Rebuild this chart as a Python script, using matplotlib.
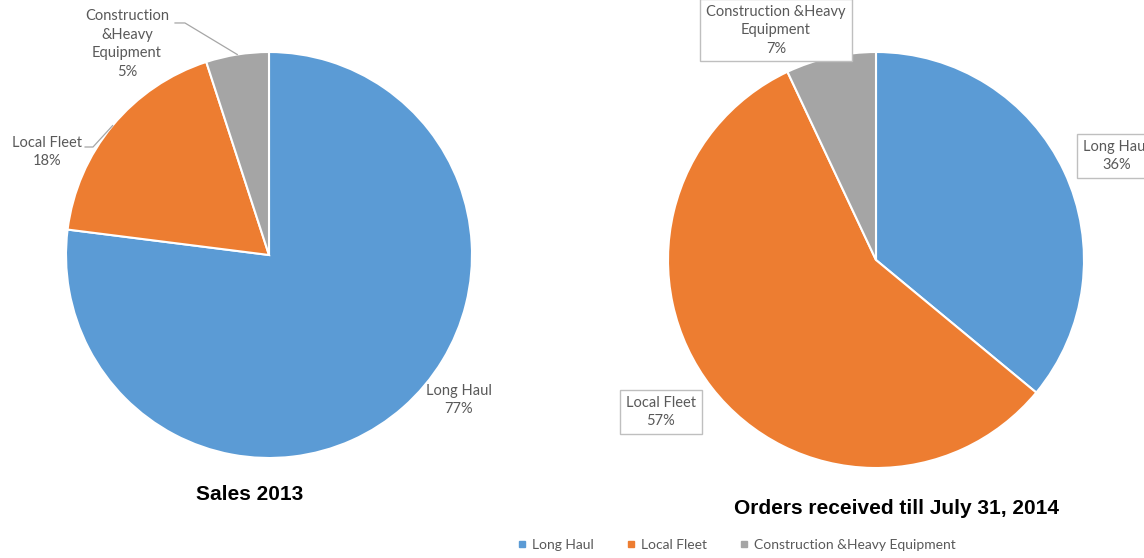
import numpy as np
import matplotlib.pyplot as plt
from matplotlib.lines import Line2D

plt.rcParams['font.family'] = ['Lato', 'DejaVu Sans']

segments = ['Long Haul', 'Local Fleet', 'Construction &Heavy Equipment']
sales_2013 = [77, 18, 5]
orders_2014 = [36, 57, 7]
colors = ['#5B9BD5', '#ED7D31', '#A5A5A5']

TEXT = '#595959'
W, H = 1144, 558

fig = plt.figure(figsize=(W / 100, H / 100), dpi=100)


def pie_axes(cx, cy, r):
    # axes square in pixels around the pie centre, data range -1..1
    return fig.add_axes([(cx - r) / W, (H - cy - r) / H, 2 * r / W, 2 * r / H])


def draw_pie(ax, values):
    wedges, _ = ax.pie(values, colors=colors, startangle=90, counterclock=False,
                       radius=1, wedgeprops=dict(edgecolor='white', linewidth=1.5))
    ax.set_xlim(-1, 1)
    ax.set_ylim(-1, 1)
    ax.set_axis_off()
    return wedges


def mid(w):
    a = np.deg2rad((w.theta1 + w.theta2) / 2)
    return np.cos(a), np.sin(a)


lab = lambda name, v: f'{name}\n{v}%'
fs = 10.5
ls = 1.4

# --- Sales 2013 ---
ax1 = pie_axes(269, 255, 203)
w1 = draw_pie(ax1, sales_2013)

ax1.text(0.936, -0.714, lab('Long Haul', sales_2013[0]), ha='center', va='center',
         fontsize=fs, color=TEXT, linespacing=ls)

# Local Fleet callout
mx, my = mid(w1[1])
ax1.plot([-0.906, -0.867, mx], [0.532, 0.532, my], color='#A6A6A6', lw=0.9, clip_on=False)
ax1.text(-1.094, 0.507, lab('Local Fleet', sales_2013[1]), ha='center', va='center',
         fontsize=fs, color=TEXT, linespacing=ls)

# Construction callout
mx, my = mid(w1[2])
ax1.plot([-0.463, -0.414, mx], [1.143, 1.143, my], color='#A6A6A6', lw=0.9, clip_on=False)
ax1.text(-0.700, 1.039, f'Construction\n&Heavy\nEquipment\n{sales_2013[2]}%', ha='center',
         va='center', fontsize=fs, color=TEXT, linespacing=ls)

# --- Orders 2014 ---
ax2 = pie_axes(876, 260, 208)
w2 = draw_pie(ax2, orders_2014)
box = dict(boxstyle='square,pad=0.4', fc='white', ec='#BFBFBF', lw=1)
ax2.text(1.155, 0.50, lab('Long Haul', orders_2014[0]), ha='center', va='center',
         fontsize=fs, color=TEXT, linespacing=ls, bbox=box)
ax2.text(-1.034, -0.731, lab('Local Fleet', orders_2014[1]), ha='center', va='center',
         fontsize=fs, color=TEXT, linespacing=ls, bbox=box)
ax2.text(-0.481, 1.105, f'Construction &Heavy\nEquipment\n{orders_2014[2]}%', ha='center',
         va='center', fontsize=fs, color=TEXT, linespacing=ls, bbox=box)

# titles
fig.text(250 / W, 1 - 495 / H, 'Sales 2013', ha='center', va='center', fontsize=15,
         fontweight='bold', family='Liberation Sans')
fig.text(897 / W, 1 - 508 / H, 'Orders received till July 31, 2014', ha='center',
         va='center', fontsize=15, fontweight='bold', family='Liberation Sans')

handles = [Line2D([], [], marker='s', ls='none', color=c, markersize=4) for c in colors]
fig.legend(handles, segments, loc='center', bbox_to_anchor=(737 / W, 1 - 545 / H), ncol=3,
           frameon=False, fontsize=10, handlelength=0.5, handletextpad=0.5,
           columnspacing=2.4, labelcolor=TEXT)

fig.savefig('out.png', dpi=100)
